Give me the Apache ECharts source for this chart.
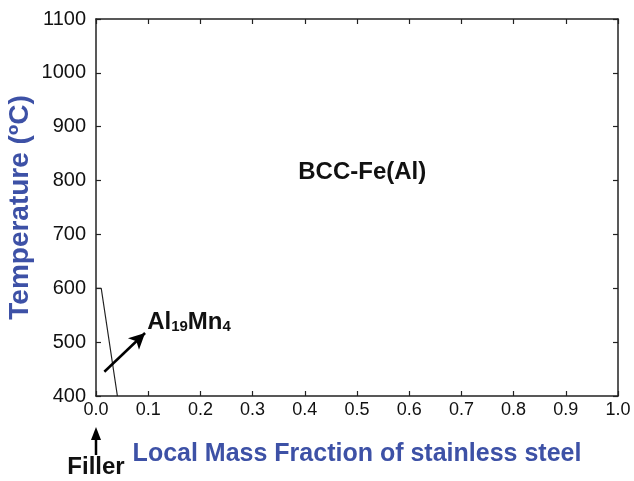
<!DOCTYPE html>
<html>
<head>
<meta charset="utf-8">
<script src="https://cdn.jsdelivr.net/npm/echarts@6/dist/echarts.min.js"></script>
<style>
  html, body { margin: 0; padding: 0; background: #fff; }
  #chart { width: 634px; height: 481px; }
</style>
</head>
<body>
<div id="chart"></div>
<script>
// axis ranges
const xRange = [0, 1];
const yRange = [400, 1100];
// phase boundary between Al19Mn4 and BCC-Fe(Al)
const boundary = [[0, 600], [0.01, 600], [0.041, 400]];
// annotation arrow pointing at the Al19Mn4 field
const al19Arrow = [[0.016, 445], [0.094, 517]];
// label anchors (data coords)
const al19LabelAt = [0.098, 537];
const bccLabelAt = [0.51, 816];
const fillerAt = 0;

const FONT = "'Liberation Sans', Arial, sans-serif";
const BLUE = "#3d51a6";
const INK = "#222";

const $ = (id) => document.getElementById(id);
const chart = echarts.init($("chart"), null, { renderer: "canvas" });

function boxAxis(pos, isX, showLabel) {
  return {
    type: "value",
    position: pos,
    min: isX ? xRange[0] : yRange[0],
    max: isX ? xRange[1] : yRange[1],
    interval: isX ? 0.1 : 100,
    splitLine: { show: false },
    axisLine: { show: true, onZero: false, lineStyle: { color: INK, width: 1.5 } },
    axisTick: { show: true, inside: true, length: 5, lineStyle: { color: INK, width: 1.2 } },
    axisLabel: {
      show: showLabel,
      color: "#111",
      fontFamily: FONT,
      fontSize: isX ? 18 : 20,
      margin: isX ? 5 : 10,
      formatter: isX ? (v) => v.toFixed(1) : (v) => String(v)
    }
  };
}

const xMain = boxAxis("bottom", true, true);
xMain.name = "Local Mass Fraction of stainless steel";
xMain.nameLocation = "middle";
xMain.nameGap = 46;
xMain.nameMoveOverlap = false;
xMain.nameTextStyle = { color: BLUE, fontFamily: FONT, fontWeight: "bold", fontSize: 25 };

const yMain = boxAxis("left", false, true);
yMain.name = "Temperature (ºC)";
yMain.nameLocation = "middle";
yMain.nameGap = 62;
yMain.nameMoveOverlap = false;
yMain.nameTextStyle = { color: BLUE, fontFamily: FONT, fontWeight: "bold", fontSize: 28 };

chart.setOption({
  animation: false,
  backgroundColor: "#fff",
  grid: { left: 96, right: 16, top: 19, bottom: 85, containLabel: false, outerBoundsMode: "none" },
  xAxis: [xMain, boxAxis("top", true, false)],
  yAxis: [yMain, boxAxis("right", false, false)],
  series: [
    {
      type: "line",
      data: boundary,
      symbol: "none",
      lineStyle: { color: INK, width: 1.2 },
      markLine: {
        silent: true,
        symbol: ["none", "arrow"],
        symbolSize: [12, 16],
        label: { show: false },
        lineStyle: { color: "#000", width: 2.5, type: "solid" },
        data: [[{ coord: al19Arrow[0] }, { coord: al19Arrow[1] }]]
      }
    }
  ]
});

// text annotations placed through the chart's own scales
const al19 = chart.convertToPixel({ gridIndex: 0 }, al19LabelAt);
const bcc = chart.convertToPixel({ gridIndex: 0 }, bccLabelAt);
const fillerX = chart.convertToPixel({ xAxisIndex: 0 }, fillerAt);

chart.setOption({
  graphic: [
    {
      type: "text",
      x: bcc[0], y: bcc[1],
      style: {
        text: "BCC-Fe(Al)", fill: "#111", font: "bold 24px " + FONT,
        align: "center", verticalAlign: "middle"
      }
    },
    {
      type: "text",
      x: al19[0], y: al19[1],
      style: {
        text: "{m|Al}{s|19}{m|Mn}{s|4}",
        align: "left", verticalAlign: "middle",
        rich: {
          m: { fill: "#111", fontFamily: FONT, fontWeight: "bold", fontSize: 24, verticalAlign: "middle" },
          s: { fill: "#111", fontFamily: FONT, fontWeight: "bold", fontSize: 15, verticalAlign: "bottom", padding: [10, 0, 0, 0] }
        }
      }
    },
    {
      type: "line",
      shape: { x1: fillerX, y1: 455, x2: fillerX, y2: 437 },
      style: { stroke: "#000", lineWidth: 2.5 }
    },
    {
      type: "polygon",
      shape: { points: [[fillerX - 5, 440], [fillerX + 5, 440], [fillerX, 427]] },
      style: { fill: "#000" }
    },
    {
      type: "text",
      x: fillerX, y: 467,
      style: {
        text: "Filler", fill: "#111", font: "bold 24px " + FONT,
        align: "center", verticalAlign: "middle"
      }
    }
  ]
});
</script>
</body>
</html>
